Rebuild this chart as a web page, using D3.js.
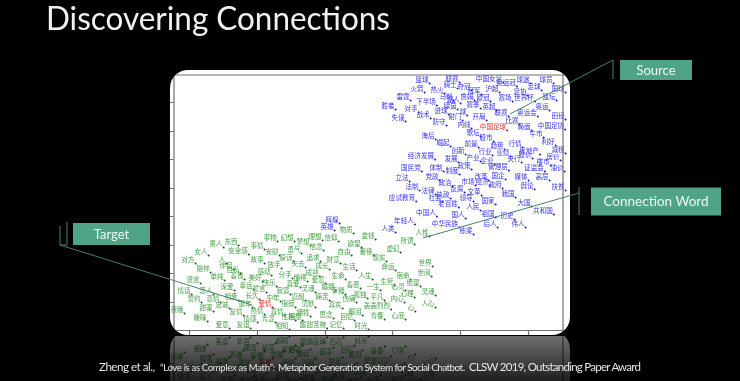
<!DOCTYPE html>
<html>
<head>
<meta charset="utf-8">
<script src="https://cdn.jsdelivr.net/npm/d3@7"></script>
<style>
  html, body { margin: 0; background: #000; overflow: hidden; }
  svg { display: block; }
</style>
</head>
<body>
<script>
// word embedding projection, rows are [word, x, y]
const sourceWords = [
  ['篮球',252,255],['联赛',282,256],['中国女足',319,256],['奥运冠',336,252],['球迷',353,255],['球员',376,255],
  ['火箭',247,246],['热火',267,245],['骑士',280,250],['夺冠',294,248],['冠军',304,244],['沪超',322,246],
  ['足协',350,243],['足球',364,248],['国球',388,246],['雷霆',233,238],['马刺',276,238],['湖人',283,235],
  ['詹姆',297,238],['欧冠',313,237],['赛场',335,237],['世界杯',354,237],['篮坛',379,238],['下半场',256,233],
  ['胜者',218,229],['对手',241,226],['赛季',303,230],['英超',319,228],['奥运',372,228],['绿茵',280,229],
  ['进球',271,224],['射门',285,218],['球',293,223],['联赛',331,222],['开局',309,218],['奥运会',357,222],
  ['田径',388,219],['失误',228,217],['战术',253,220],['防守',269,213],['比赛',342,214],['内线',294,210],
  ['局面',354,208],['中国足协',381,209],['歌坛',303,202],['牛市',366,201],['海后',258,199],['股市',316,197],
  ['利好',378,193],['崛起',273,192],['前景',301,191],['趋势',327,189],['行情',345,191],['减税',388,185],
  ['创新',288,184],['房地产',359,184],['行业',315,183],['业绩',333,182],['经济发展',251,179],['发展',281,176],
  ['产业',303,177],['企业',317,174],['央行',344,176],['房价',383,178],['楼市',373,173],['股价',355,180],
  ['国民党',241,167],['体制',266,167],['制度',282,164],['政策',294,169],['管理层',328,168],['证监会',364,167],
  ['油价',387,167],['立法',232,157],['党政',262,158],['改革',311,158],['国企',328,159],['媒体',351,158],
  ['高层',372,158],['市场',298,153],['政治',275,152],['经济',312,153],['政府',325,150],['舆论',357,149],
  ['扶贫',388,148],['法制',242,148],['法律',258,144],['反腐',287,146],['文革',304,143],['我国',338,141],
  ['应试教育',232,137],['社会',265,137],['执政',273,140],['领导',296,137],['国家',318,134],['老百姓',278,131],
  ['大国',354,132],['人民',303,128],['共和国',373,124],['中国人',256,122],['国人',288,120],['祖国',318,121],
  ['历史',337,119],['年轻人',234,114],['中华民族',275,111],['后人',320,111],['伟人',348,111],['人类',218,106],
  ['栋梁',296,104],['辉煌',162,115],['英雄',157,108]
]
const targetWords = [
  ['人性',252,102],['金钱',198,99],['物质',176,105],['所谓',237,94],['信仰',161,97],['理想',145,98],
  ['梦想',133,93],['欲望',184,91],['勇气',124,85],['信念',146,88],['虚幻',223,86],['奢侈',196,83],
  ['自由',174,83],['现实',209,77],['追求',143,77],['财富',163,75],['失去',128,71],['成长',152,69],
  ['生活',179,68],['命运',218,68],['世界',255,72],['世间',254,62],['成熟',142,62],['人生',195,59],
  ['生命',168,59],['宿命',233,59],['懂得',130,57],['爱恋',148,55],['真爱',123,51],['善恶',183,50],
  ['生死',217,53],['心灵',228,48],['绝望',243,52],['一生',203,48],['婚姻',158,48],['幸福',168,44],
  ['灵魂',138,46],['灵魂',258,43],['心理',237,41],['平凡',207,38],['孤独',190,40],['忍耐',128,38],
  ['痛苦',152,38],['伤痛',179,36],['内心',227,36],['沉默',138,31],['真实',165,30],['轰轰烈烈',207,29],
  ['心',241,27],['人心',258,31],['牺牲',133,22],['眼泪',185,23],['思念',156,20],['回忆',177,18],
  ['青春',207,19],['心底',228,19],['回想',125,18],['记忆',166,10],['酸甜苦辣',143,10],['时光',191,9],
  ['事物',100,97],['幻想',117,97],['东西',61,93],['男人',46,91],['事情',87,89],['安全感',68,84],
  ['女人',31,83],['安慰',102,83],['对方',18,75],['故事',87,75],['原谅',116,77],['人',52,75],
  ['伴侣',56,69],['陪伴',33,66],['放手',104,70],['自私',63,65],['感动',94,63],['分手',115,60],
  ['单纯',47,58],['美好',85,57],['善良',67,59],['谎言',23,55],['快乐',99,52],['深爱',57,48],
  ['幸运',76,49],['寂寞',113,44],['誓言',89,46],['情话',14,44],['恋人',36,44],['相爱',61,38],
  ['长久',82,39],['中年',103,37],['誓约',24,36],['恋情',43,36],['忠诚',52,30],['童年',75,31],
  ['宿寂',118,31],['夜晚',7,25],['甜蜜',36,27],['友情',66,23],['热情',87,24],['真情',107,23],
  ['暧昧',30,17],['情感',80,16],['青涩',98,16],['性格',118,18],['爱意',52,10],['友谊',73,10],['相知',112,9]
]
const highlightWords = [['中国足球',323,208],['爱情',95,31]]
const xTicks = [19, 87, 155, 222, 290, 358]
const yTicks = [33, 62, 90, 119, 147, 176, 204, 233]

const width = 740
const height = 381
const green = '#50a387'

const svg = d3.select('body').append('svg')
  .attr('width', width)
  .attr('height', height)

const x = d3.scaleLinear().domain([0, 400]).range([170, 570])
const y = d3.scaleLinear().domain([0, 265]).range([335, 70])

const defs = svg.append('defs')
defs.append('filter').attr('id', 'soft')
  .attr('x', 0).attr('y', 0).attr('width', 1).attr('height', 1)
  .append('feGaussianBlur').attr('stdDeviation', 0.45)
defs.append('clipPath').attr('id', 'frame')
  .append('rect')
  .attr('x', 170).attr('y', 70).attr('width', 400).attr('height', 265).attr('rx', 18)
defs.append('clipPath').attr('id', 'below')
  .append('rect')
  .attr('x', 0).attr('y', 336).attr('width', width).attr('height', 45)
const fade = defs.append('linearGradient').attr('id', 'fade')
  .attr('gradientUnits', 'userSpaceOnUse')
  .attr('x1', 0).attr('y1', 336).attr('x2', 0).attr('y2', 381)
fade.append('stop').attr('offset', 0).attr('stop-color', '#fff').attr('stop-opacity', 0.44)
fade.append('stop').attr('offset', 1).attr('stop-color', '#fff').attr('stop-opacity', 0.12)
defs.append('mask').attr('id', 'fadeMask')
  .attr('maskUnits', 'userSpaceOnUse')
  .attr('x', 0).attr('y', 0).attr('width', width).attr('height', height)
  .append('rect')
  .attr('x', 0).attr('y', 0).attr('width', width).attr('height', height)
  .attr('fill', 'url(#fade)')

const root = svg.append('g').attr('filter', 'url(#soft)')

// the chart picture, also used again for the reflection
const chart = root.append('g').attr('id', 'chart').attr('clip-path', 'url(#frame)')
chart.append('rect')
  .attr('x', 170).attr('y', 70).attr('width', 400).attr('height', 265)
  .attr('fill', '#fff')

const plot = chart.append('g')
const cjk = '"Noto Sans CJK SC", sans-serif'

function drawWords (rows, textColor, dotColor) {
  const g = plot.append('g')
  g.selectAll('circle').data(rows).join('circle')
    .attr('cx', d => x(d[1]) + d[0].length * 3.3 + 1)
    .attr('cy', d => y(d[2]) + 3.5)
    .attr('r', 1)
    .attr('fill', dotColor)
  g.selectAll('text').data(rows).join('text')
    .attr('x', d => x(d[1]))
    .attr('y', d => y(d[2]))
    .attr('dy', '0.36em')
    .attr('text-anchor', 'middle')
    .attr('font-family', cjk)
    .attr('font-size', 6.6)
    .attr('fill', textColor)
    .text(d => d[0])
}

drawWords(sourceWords, '#3434f0', '#1c1c90')
drawWords(targetWords, '#44a044', '#1a501a')
drawWords(highlightWords, '#f02c2c', '#a01010')

// axes on all four sides, matplotlib style with outward ticks
const axisBottom = d3.axisBottom(x).tickValues(xTicks).tickSize(5).tickFormat('')
const axisLeft = d3.axisLeft(y).tickValues(yTicks).tickSize(4).tickFormat('')
const bottom = chart.append('g').attr('transform', 'translate(0,330)').call(axisBottom)
const left = chart.append('g').attr('transform', 'translate(173.5,0)').call(axisLeft)
bottom.selectAll('path,line').attr('stroke', '#707070').attr('stroke-width', 1.2)
left.selectAll('path,line').attr('stroke', '#707070').attr('stroke-width', 1.2)
chart.append('line')
  .attr('x1', x(0)).attr('x2', x(400)).attr('y1', y(260)).attr('y2', y(260))
  .attr('stroke', '#707070').attr('stroke-width', 1.2)
chart.append('line')
  .attr('x1', x(393)).attr('x2', x(393)).attr('y1', y(0)).attr('y2', y(265))
  .attr('stroke', '#707070').attr('stroke-width', 1.2)

// reflection under the chart
root.append('g')
  .attr('clip-path', 'url(#below)')
  .append('g')
  .attr('mask', 'url(#fadeMask)')
  .append('use')
  .attr('href', '#chart')
  .attr('transform', 'translate(0,666) scale(1,-1)')

// callout lines and boxes
const lines = root.append('g')
  .attr('fill', 'none')
  .attr('stroke', '#44806d')
  .attr('stroke-width', 1)
lines.append('path').attr('d', 'M510,114L613,60M613,60V79')
lines.append('path').attr('d', 'M579,187V215M579,193L423,238')
lines.append('path').attr('d', 'M67,222V245H60V226M60,245L252,305')

const boxes = [
  { label: 'Source', x: 620, y: 60, w: 72, h: 20, size: 13 },
  { label: 'Connection Word', x: 591, y: 187.5, w: 130, h: 28, size: 13.5 },
  { label: 'Target', x: 73, y: 223, w: 77, h: 22, size: 13 }
]
boxes.forEach(b => {
  root.append('rect')
    .attr('x', b.x).attr('y', b.y).attr('width', b.w).attr('height', b.h)
    .attr('fill', green)
  root.append('text')
    .attr('x', b.x + b.w / 2).attr('y', b.y + b.h / 2)
    .attr('dy', '0.36em')
    .attr('text-anchor', 'middle')
    .attr('font-family', 'Lato, sans-serif')
    .attr('font-size', b.size)
    .attr('fill', '#eef7f3')
    .text(b.label)
})

// title
root.append('text')
  .attr('x', 46).attr('y', 30)
  .attr('font-family', 'Lato, sans-serif')
  .attr('font-weight', 400)
  .attr('font-size', 32)
  .attr('textLength', 344)
  .attr('lengthAdjust', 'spacingAndGlyphs')
  .attr('fill', '#f0f0f0')
  .text('Discovering Connections')

// citation
const citation = [
  { text: 'Zheng et al., ', x: 99, w: 56, size: 11.5 },
  { text: '“Love is as Complex as Math”:', x: 160, w: 115, size: 9.5 },
  { text: 'Metaphor Generation System for Social Chatbot.', x: 278, w: 187, size: 10 },
  { text: 'CLSW 2019, Outstanding Paper Award', x: 469, w: 172, size: 11.5 }
]
root.selectAll('.cite').data(citation).join('text')
  .attr('class', 'cite')
  .attr('x', d => d.x)
  .attr('y', 370.5)
  .attr('font-family', 'Lato, sans-serif')
  .attr('font-size', d => d.size)
  .attr('textLength', d => d.w)
  .attr('fill', '#e6e6e6')
  .text(d => d.text)
</script>
</body>
</html>
